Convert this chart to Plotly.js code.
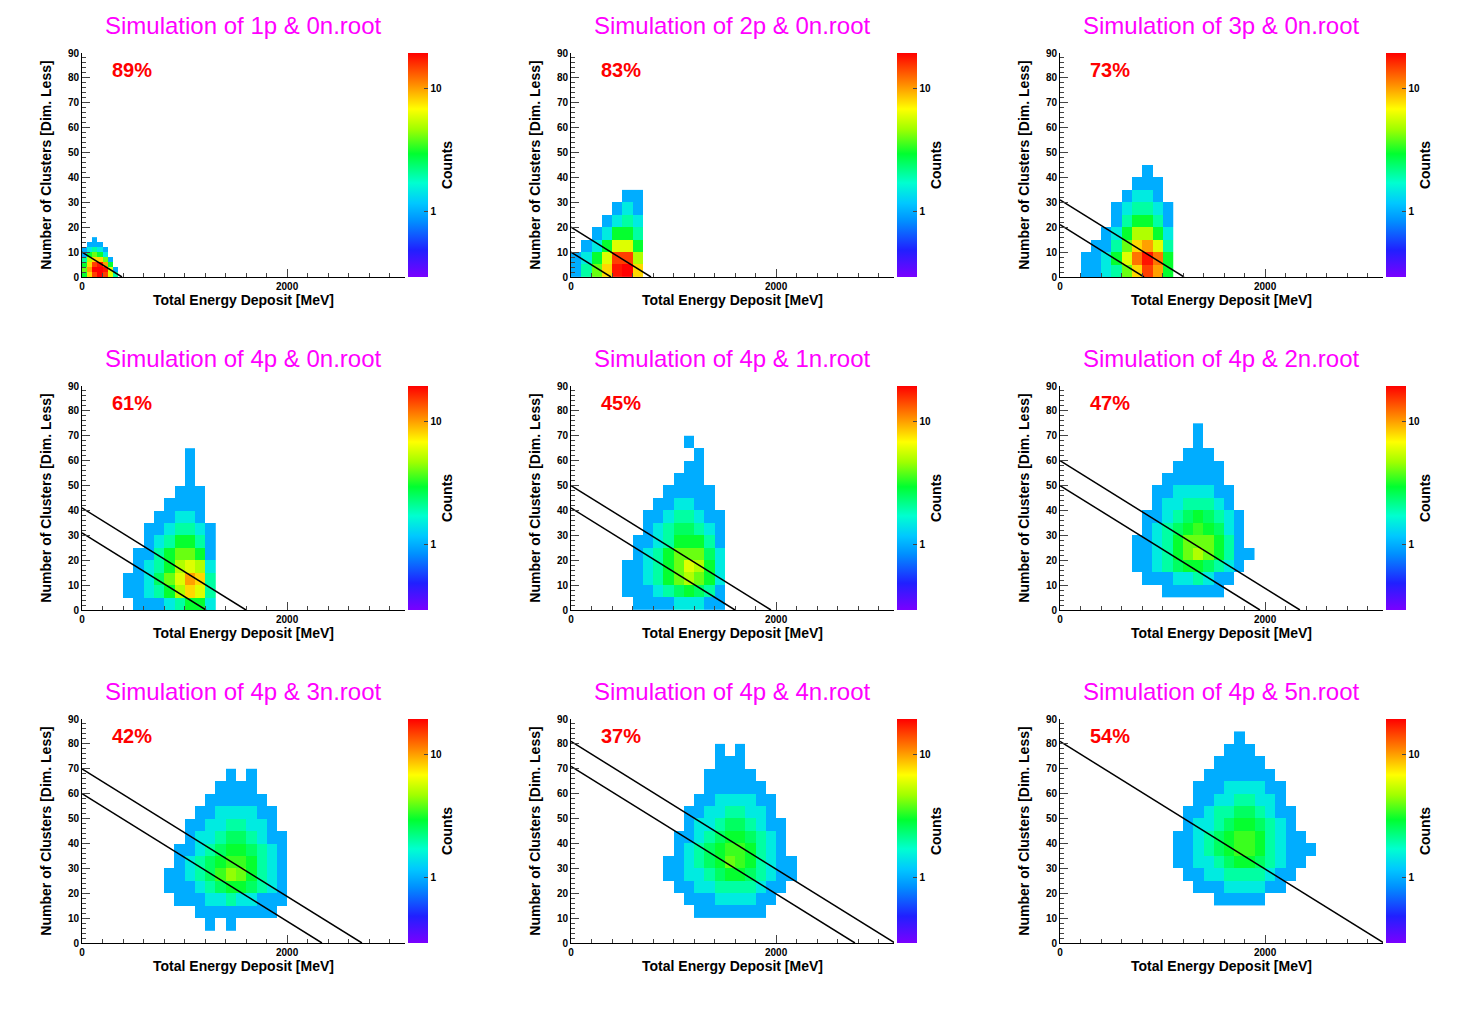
<!DOCTYPE html>
<html>
<head>
<meta charset="utf-8">
<script src="https://cdn.plot.ly/plotly-3.0.1.min.js"></script>
<style>body{margin:0;background:#fff}#chart{width:1467px;height:1021px}</style>
</head>
<body>
<div id="chart"></div>
<script>
var _ = null;
var titles = ["Simulation of 1p & 0n.root", "Simulation of 2p & 0n.root", "Simulation of 3p & 0n.root",
              "Simulation of 4p & 0n.root", "Simulation of 4p & 1n.root", "Simulation of 4p & 2n.root",
              "Simulation of 4p & 3n.root", "Simulation of 4p & 4n.root", "Simulation of 4p & 5n.root"];
var percents = ["89%", "83%", "73%", "61%", "45%", "47%", "42%", "37%", "54%"];
// y-intercepts of the cut lines (clusters at 0 MeV)
var cutIntercepts = [[10], [20, 10], [31, 21], [41, 31], [50, 41], [60, 50], [70, 60], [81, 71], [81]];
var cutSlope = 39; // MeV per cluster
// bin grid of each histogram
var binX0 = [0, 0, 100, 300, 400, 600, 700, 800, 1000];
var binDX = [50, 100, 100, 100, 100, 100, 100, 100, 100];
var binY0 = [0, 0, 0, 0, 0, 5, 5, 10, 15];
var binDY = [2, 5, 5, 5, 5, 5, 5, 5, 5];
// counts, bottom row first
var counts1 = [
  [3,8,15,20,15,6,2,_],[4,10,20,25,18,6,1,_],[3,8,15,18,10,3,_,_],[2,5,8,8,4,1,_,_],
  [1,3,4,3,1.5,_,_,_],[1,1.5,2,1.5,1,_,_,_],[_,1,1,1,_,_,_,_],[_,_,1,_,_,_,_,_]];
var counts2 = [
  [1,2,4,8,18,20,8],[1,1.5,3,6,15,15,5],[_,1,1.5,3,6,6,3],[_,_,1,1.5,3,3,2],
  [_,_,_,1,1.5,2,1.5],[_,_,_,_,1,1.5,1],[_,_,_,_,_,1,1]];
var counts3 = [
  [_,1,1,1.5,2,4,8,15,10,3],[_,1,1,1.5,3,6,12,18,12,3],[_,_,1,1,2,4,8,10,6,2],
  [_,_,_,1,1.5,3,5,5,3,1.5],[_,_,_,_,1,2,3,3,2,1],[_,_,_,_,1,1.5,2,2,1.5,1],
  [_,_,_,_,_,1,1.5,1.5,1,_],[_,_,_,_,_,_,1,1,1,_],[_,_,_,_,_,_,_,1,_,_]];
var counts4 = [
  [_,_,1,1,1,1.5,2,3,3,1.5],[_,1,1,1.5,2,3,5,8,6,2],[_,1,1,1.5,2.5,4,6,10,8,2],
  [_,_,1,1.5,2,3,5,6,5,1.5],[_,_,1,1,2,3,4,4,3,1],[_,_,_,1,1.5,2,3,3,2,1],
  [_,_,_,1,1,1.5,2,2,1.5,1],[_,_,_,_,1,1,1.5,1.5,1,_],[_,_,_,_,_,1,1,1,1,_],
  [_,_,_,_,_,_,1,1,1,_],[_,_,_,_,_,_,_,1,_,_],[_,_,_,_,_,_,_,1,_,_],[_,_,_,_,_,_,_,1,_,_]];
var counts5 = [
  [_,_,1,1,1,1,1.5,1.5,1.5,1,1,_],[_,1,1,1,1.5,2,2.5,3,2.5,2,1,_],
  [_,1,1,1.5,2,3,4,5,4,3,1.5,_],[_,1,1,1.5,2,3,4,6,5,3,1.5,_],
  [_,_,1,1.5,2,3,4,4,4,2.5,1.5,_],[_,_,1,1,1.5,2,3,3,3,2,1,_],
  [_,_,_,1,1.5,2,2.5,2.5,2,1.5,1,_],[_,_,_,1,1,1.5,2,2,1.5,1,1,_],
  [_,_,_,_,1,1,1.5,1.5,1,1,_,_],[_,_,_,_,_,1,1,1,1,1,_,_],
  [_,_,_,_,_,_,1,1,1,_,_,_],[_,_,_,_,_,_,_,1,1,_,_,_],
  [_,_,_,_,_,_,_,_,1,_,_,_],[_,_,_,_,_,_,_,1,_,_,_,_]];
var counts6 = [
  [_,_,_,_,1,1,1,1,1,1,_,_,_],[_,_,1,1,1,1.5,1.5,2,1.5,1,1,_,_],
  [_,1,1,1.5,2,2.5,3,3,2.5,2,1.5,1,_],[_,1,1,1.5,2,3,4,5,4,3,2,1,1],
  [_,1,1,1.5,2,3,4,4,4,3,2,1,_],[_,_,1,1.5,2,2.5,3,3.5,3,2.5,1.5,1,_],
  [_,_,1,1,1.5,2,2.5,3,2.5,2,1.5,1,_],[_,_,_,1,1.5,1.5,2,2,2,1.5,1,_,_],
  [_,_,_,1,1,1.5,1.5,1.5,1.5,1,1,_,_],[_,_,_,_,1,1,1,1,1,1,_,_,_],
  [_,_,_,_,_,1,1,1,1,1,_,_,_],[_,_,_,_,_,_,1,1,1,_,_,_,_],
  [_,_,_,_,_,_,_,1,_,_,_,_,_],[_,_,_,_,_,_,_,1,_,_,_,_,_]];
var counts7 = [
  [_,_,_,_,_,1,_,1,_,_,_,_,_,_],[_,_,_,_,1,1,1,1,1,1,1,1,_,_],
  [_,_,1,1,1,1.5,1.5,2,1.5,1.5,1,1,1,_],[_,1,1,1,1.5,2,2.5,3,3,2.5,2,1.5,1,_],
  [_,1,1,1.5,2,2.5,3.5,4.5,4,3,2,1.5,1,_],[_,_,1,1.5,2,2.5,3,3.5,3.5,3,2,1.5,1,_],
  [_,_,1,1,1.5,2,2.5,3,3,2.5,2,1.5,1,_],[_,_,_,1,1.5,1.5,2,2.5,2.5,2,1.5,1,1,_],
  [_,_,_,1,1,1.5,1.5,2,2,1.5,1.5,1,_,_],[_,_,_,_,1,1,1.5,1.5,1.5,1.5,1,1,_,_],
  [_,_,_,_,_,1,1,1,1,1,1,_,_,_],[_,_,_,_,_,_,1,1,1,1,_,_,_,_],
  [_,_,_,_,_,_,_,1,_,1,_,_,_,_]];
var counts8 = [
  [_,_,_,_,1,1,1,1,1,1,1,_,_,_,_],[_,_,_,1,1,1,1.5,1.5,1.5,1.5,1,1,_,_,_],
  [_,_,1,1,1.5,1.5,2,2,2,2,1.5,1,1,_,_],[_,1,1,1.5,1.5,2,2.5,3,3,2.5,2,1.5,1,1,_],
  [_,1,1,1.5,2,2.5,3,4,3.5,3,2,1.5,1,1,_],[_,_,1,1.5,2,2.5,3,3.5,3.5,3,2,1.5,1,_,_],
  [_,_,1,1,1.5,2,2.5,3,3,2.5,2,1.5,1,_,_],[_,_,_,1,1.5,1.5,2,2.5,2.5,2,1.5,1,1,_,_],
  [_,_,_,1,1,1.5,1.5,2,2,1.5,1.5,1,_,_,_],[_,_,_,_,1,1,1.5,1.5,1.5,1.5,1,1,_,_,_],
  [_,_,_,_,_,1,1,1,1,1,1,_,_,_,_],[_,_,_,_,_,1,1,1,1,1,_,_,_,_,_],
  [_,_,_,_,_,_,1,1,1,_,_,_,_,_,_],[_,_,_,_,_,_,1,_,1,_,_,_,_,_,_]];
var counts9 = [
  [_,_,_,_,_,1,1,1,1,1,_,_,_,_,_,_],[_,_,_,1,1,1,1.5,1.5,1.5,1.5,1,1,_,_,_,_],
  [_,_,1,1,1.5,1.5,2,2,2,2,1.5,1,1,_,_,_],[_,1,1,1.5,1.5,2,2.5,3,3,2.5,2,1.5,1,1,_,_],
  [_,1,1,1.5,2,2.5,3,3.5,3.5,3,2,1.5,1,1,1,_],[_,1,1,1.5,2,2.5,3,3.5,3.5,3,2,1.5,1,1,_,_],
  [_,_,1,1.5,1.5,2,2.5,3,3,2.5,2,1.5,1,_,_,_],[_,_,1,1,1.5,2,2,2.5,2.5,2,1.5,1,1,_,_,_],
  [_,_,_,1,1,1.5,1.5,2,2,1.5,1.5,1,_,_,_,_],[_,_,_,1,1,1,1.5,1.5,1.5,1.5,1,1,_,_,_,_],
  [_,_,_,_,1,1,1,1,1,1,1,_,_,_,_,_],[_,_,_,_,_,1,1,1,1,1,_,_,_,_,_,_],
  [_,_,_,_,_,_,1,1,1,_,_,_,_,_,_,_],[_,_,_,_,_,_,_,1,_,_,_,_,_,_,_,_]];
var allCounts = [counts1, counts2, counts3, counts4, counts5, counts6, counts7, counts8, counts9];

var W = 1467, H = 1021;
var colLeft = [82, 571, 1060], plotW = 323;
var rowTop = [53, 386, 719], plotH = 224;
var rainbow = [[0,'#7a00ff'],[0.12,'#2020ff'],[0.25,'#0090ff'],[0.33,'#00c8ff'],[0.42,'#00ffd0'],
               [0.55,'#00ff30'],[0.66,'#a0ff00'],[0.75,'#ffff00'],[0.86,'#ff8c00'],[1,'#ff0000']];
var bold = {family: 'Liberation Sans, Arial, sans-serif', size: 13, color: '#000', weight: 'bold'};
var traces = [], annotations = [];
var layout = {width: W, height: H, margin: {l: 0, r: 0, t: 0, b: 0}, showlegend: false,
              paper_bgcolor: '#fff', plot_bgcolor: '#fff', annotations: annotations};

for (var i = 0; i < 9; i++) {
  var c = i % 3, r = Math.floor(i / 3);
  var n = i === 0 ? '' : String(i + 1);
  var x0 = colLeft[c] / W, x1 = (colLeft[c] + plotW) / W;
  var y1 = 1 - rowTop[r] / H, y0 = 1 - (rowTop[r] + plotH) / H;
  var z = allCounts[i].map(function (row) {
    return row.map(function (v) { return v === null ? null : Math.log10(v); });
  });
  traces.push({
    type: 'heatmap', z: z, x0: binX0[i] + binDX[i] / 2, dx: binDX[i], y0: binY0[i] + binDY[i] / 2, dy: binDY[i],
    xaxis: 'x' + n, yaxis: 'y' + n, colorscale: rainbow, zmin: -0.53, zmax: 1.29, hoverinfo: 'skip',
    colorbar: {x: (colLeft[c] + plotW + 3) / W, xanchor: 'left', y: (y0 + y1) / 2, yanchor: 'middle',
      len: plotH / H, lenmode: 'fraction', thickness: 20, outlinewidth: 0, xpad: 0, ypad: 0,
      tickvals: [0, 1], ticktext: ['1', '10'], ticks: 'inside', ticklen: 4,
      tickfont: {family: bold.family, size: 10, color: '#000', weight: 'bold'},
      title: {text: 'Counts', side: 'right', font: {family: bold.family, size: 14, color: '#000', weight: 'bold'}}}
  });
  cutIntercepts[i].forEach(function (b) {
    traces.push({type: 'scatter', mode: 'lines', x: [0, b * cutSlope], y: [b, 0],
      xaxis: 'x' + n, yaxis: 'y' + n, line: {color: '#000', width: 1.5}, hoverinfo: 'skip'});
  });
  layout['xaxis' + n] = {domain: [x0, x1], anchor: 'y' + n, range: [0, 3150], tickvals: [0, 2000],
    ticks: 'inside', ticklen: 8, showgrid: false, zeroline: false, showline: true, linecolor: '#000',
    minor: {dtick: 200, ticks: 'inside', ticklen: 4, showgrid: false},
    tickfont: {family: bold.family, size: 10, color: '#000', weight: 'bold'},
    title: {text: 'Total Energy Deposit [MeV]', font: {family: bold.family, size: 14, color: '#000', weight: 'bold'}, standoff: 4}};
  layout['yaxis' + n] = {domain: [y0, y1], anchor: 'x' + n, range: [0, 90], dtick: 10,
    ticks: 'inside', ticklen: 8, showgrid: false, zeroline: false, showline: true, linecolor: '#000',
    minor: {dtick: 2, ticks: 'inside', ticklen: 4, showgrid: false},
    tickfont: {family: bold.family, size: 10, color: '#000', weight: 'bold'},
    title: {text: 'Number of Clusters [Dim. Less]', font: {family: bold.family, size: 14, color: '#000', weight: 'bold'}, standoff: 12}};
  annotations.push({xref: 'paper', yref: 'paper', x: (colLeft[c] + 161) / W, y: 1 - (rowTop[r] - 28) / H,
    xanchor: 'center', yanchor: 'middle',
    text: titles[i], showarrow: false, font: {family: 'Liberation Sans, Arial, sans-serif', size: 24, color: '#ff00ff'}});
  annotations.push({xref: 'paper', yref: 'paper', x: (colLeft[c] + 28) / W, y: 1 - (rowTop[r] + 17) / H,
    xanchor: 'left', yanchor: 'middle', text: percents[i], showarrow: false,
    font: {family: 'Liberation Sans, Arial, sans-serif', size: 20, color: '#ff0000', weight: 'bold'}});
}
Plotly.newPlot('chart', traces, layout, {displayModeBar: false, staticPlot: true});
</script>
</body>
</html>
